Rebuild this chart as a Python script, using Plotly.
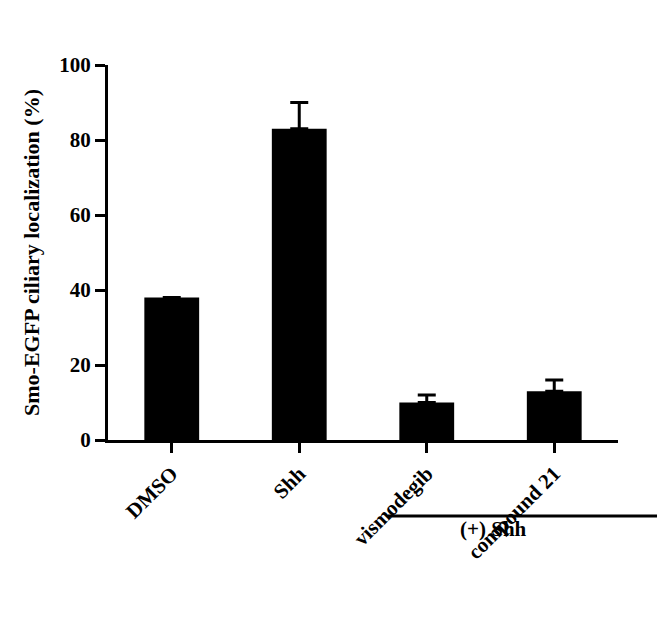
import plotly.graph_objects as go

categories = ["DMSO", "Shh", "vismodegib", "compound 21"]
values = [38, 83, 10, 13]
errors = [0, 7, 2, 3]
yticks = [0, 20, 40, 60, 80, 100]

TF = dict(size=21, family="Liberation Serif", color="black")
fig = go.Figure(go.Bar(
    x=categories, y=values, width=0.43, marker=dict(color="black", line=dict(width=0)),
    error_y=dict(type="data", array=errors, arrayminus=[0]*4, symmetric=False,
                 color="black", thickness=3, width=9)))
fig.update_layout(
    width=665, height=639, plot_bgcolor="white", paper_bgcolor="white",
    margin=dict(l=100, r=55, t=57, b=207), showlegend=False,
    xaxis=dict(range=[-0.5, 3.5], showline=True, linewidth=3, linecolor="black",
               ticks="outside", ticklen=10, tickwidth=3, tickcolor="black",
               tickangle=-45, tickfont=TF, showgrid=False, automargin=False,
               tickvals=categories, ticktext=["<b>%s</b>" % c for c in categories]),
    yaxis=dict(range=[0, 100], showline=True, linewidth=3, linecolor="black",
               ticks="outside", ticklen=10, tickwidth=3, tickcolor="black",
               showgrid=False, zeroline=False, automargin=False,
               tickvals=yticks, ticktext=["<b>%d</b>" % v for v in yticks], tickfont=TF,
               title=dict(text="<b>Smo-EGFP ciliary localization (%)</b>", standoff=14,
                          font=dict(size=22, family="Liberation Serif", color="black"))),
)
fig.add_shape(type="line", xref="paper", yref="paper", x0=(380-100)/510, x1=(660-100)/510,
              y0=-(508-432)/375, y1=-(508-432)/375, line=dict(color="black", width=3))
fig.add_annotation(text="<b>(+) Shh</b>", xref="paper", yref="paper", x=(521-100)/510,
                   y=-(535-432)/375, showarrow=False, font=TF)
fig.write_html("out.html")
